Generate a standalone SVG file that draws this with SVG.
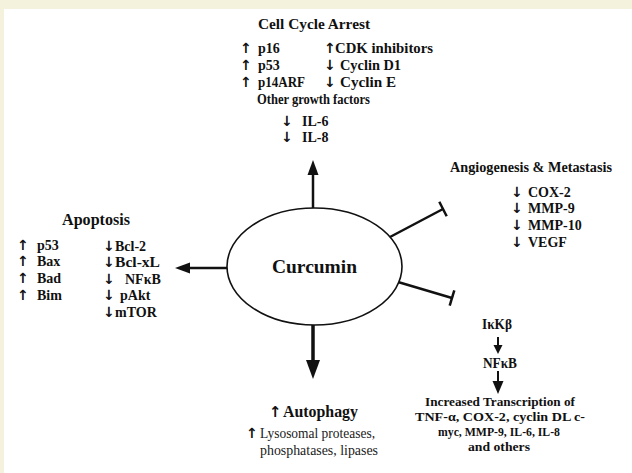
<svg xmlns="http://www.w3.org/2000/svg" width="632" height="473" viewBox="0 0 632 473">
<style>
text{font-family:"Liberation Serif","Times New Roman",serif;fill:#111}
.b{font-weight:bold}
.t{font-size:15px;font-weight:bold}
.r{font-size:14px;font-weight:bold}
.a{font-family:"DejaVu Sans",sans-serif;font-size:14px;font-weight:bold}
.x{font-size:12.5px;font-weight:bold}
.ln{stroke:#111;stroke-width:2.5;fill:none}
.ah{fill:#111}
</style>
<rect x="0" y="0" width="632" height="473" fill="#ffffff"/>
<rect x="0" y="0" width="632" height="9" fill="#f4f1dc"/>
<rect x="0" y="0" width="4" height="473" fill="#f4f1dc"/>

<g id="connectors">
  <line class="ln" x1="313" y1="208" x2="313" y2="172"/>
  <polygon class="ah" points="313,160 307.5,175 318.5,175"/>
  <line class="ln" x1="227" y1="268" x2="187" y2="268"/>
  <polygon class="ah" points="175,268 190,262.5 190,273.5"/>
  <line class="ln" style="stroke-width:3.5" x1="313" y1="325" x2="313" y2="362"/>
  <polygon class="ah" points="313,379 306,360 320,360"/>
  <line class="ln" x1="390" y1="237" x2="443" y2="209"/>
  <line class="ln" x1="439.3" y1="201.8" x2="446.7" y2="216.2"/>
  <line class="ln" x1="398" y1="282" x2="452" y2="298"/>
  <line class="ln" x1="454.3" y1="290.3" x2="449.7" y2="305.7"/>
  <line class="ln" style="stroke-width:2" x1="498" y1="337" x2="498" y2="346"/>
  <polygon class="ah" points="498,354 493.5,345 502.5,345"/>
  <line class="ln" style="stroke-width:2" x1="498" y1="371" x2="498" y2="382"/>
  <polygon class="ah" points="498,394 492.5,381 503.5,381"/>
</g>

<g id="n-curcumin">
  <ellipse cx="314.5" cy="266.5" rx="87.5" ry="58.5" fill="#fff" stroke="#111" stroke-width="1.6"/>
  <text x="272" y="273" class="b" style="font-size:19px" textLength="85" lengthAdjust="spacingAndGlyphs">Curcumin</text>
</g>

<g id="n-cellcycle">
  <text x="258" y="29" class="t" textLength="112" lengthAdjust="spacingAndGlyphs">Cell Cycle Arrest</text>
  <text x="240" y="53" class="a">↑</text><text x="258" y="53" class="r">p16</text>
  <text x="240" y="70" class="a">↑</text><text x="258" y="70" class="r">p53</text>
  <text x="240" y="87" class="a">↑</text><text x="258" y="87" class="r" textLength="47" lengthAdjust="spacingAndGlyphs">p14ARF</text>
  <text x="324" y="53" class="a">↑</text><text x="335" y="53" class="r" textLength="98" lengthAdjust="spacingAndGlyphs">CDK inhibitors</text>
  <text x="324" y="70" class="a">↓</text><text x="340" y="70" class="r" textLength="61" lengthAdjust="spacingAndGlyphs">Cyclin D1</text>
  <text x="324" y="87" class="a">↓</text><text x="340" y="87" class="r" textLength="56" lengthAdjust="spacingAndGlyphs">Cyclin E</text>
  <text x="257" y="104" class="r" textLength="113" lengthAdjust="spacingAndGlyphs">Other growth factors</text>
  <text x="281" y="126" class="a">↓</text><text x="302" y="126" class="r">IL-6</text>
  <text x="281" y="142" class="a">↓</text><text x="302" y="142" class="r">IL-8</text>
</g>

<g id="n-apoptosis">
  <text x="62" y="225" class="b" style="font-size:16px" textLength="68" lengthAdjust="spacingAndGlyphs">Apoptosis</text>
  <text x="17" y="250" class="a">↑</text><text x="37" y="250" class="r">p53</text>
  <text x="17" y="266" class="a">↑</text><text x="37" y="266" class="r">Bax</text>
  <text x="17" y="283" class="a">↑</text><text x="37" y="283" class="r">Bad</text>
  <text x="17" y="300" class="a">↑</text><text x="37" y="300" class="r">Bim</text>
  <text x="103" y="251" class="a">↓</text><text x="115" y="251" class="r">Bcl-2</text>
  <text x="103" y="267" class="a">↓</text><text x="115" y="267" class="r" textLength="45" lengthAdjust="spacingAndGlyphs">Bcl-xL</text>
  <text x="103" y="284" class="a">↓</text><text x="125" y="284" class="r">NFκB</text>
  <text x="103" y="300" class="a">↓</text><text x="120" y="300" class="r">pAkt</text>
  <text x="103" y="317" class="a">↓</text><text x="115" y="317" class="r">mTOR</text>
</g>

<g id="n-angio">
  <text x="450" y="172" class="t" textLength="162" lengthAdjust="spacingAndGlyphs">Angiogenesis &amp; Metastasis</text>
  <text x="511" y="197" class="a">↓</text><text x="528" y="197" class="r">COX-2</text>
  <text x="511" y="213" class="a">↓</text><text x="528" y="213" class="r">MMP-9</text>
  <text x="511" y="230" class="a">↓</text><text x="528" y="230" class="r">MMP-10</text>
  <text x="511" y="247" class="a">↓</text><text x="528" y="247" class="r">VEGF</text>
</g>

<g id="n-nfkb">
  <text x="497" y="329" class="b" style="font-size:14px" text-anchor="middle" textLength="30" lengthAdjust="spacingAndGlyphs">IκKβ</text>
  <text x="500" y="368" class="b" style="font-size:14px" text-anchor="middle" textLength="34" lengthAdjust="spacingAndGlyphs">NFκB</text>
  <text x="500" y="406" class="x" text-anchor="middle" textLength="150" lengthAdjust="spacingAndGlyphs">Increased Transcription of</text>
  <text x="500" y="421" class="x" text-anchor="middle" textLength="170" lengthAdjust="spacingAndGlyphs">TNF-α, COX-2, cyclin DL c-</text>
  <text x="499" y="436" class="x" text-anchor="middle" textLength="122" lengthAdjust="spacingAndGlyphs">myc, MMP-9, IL-6, IL-8</text>
  <text x="499" y="451" class="x" text-anchor="middle" textLength="62" lengthAdjust="spacingAndGlyphs">and others</text>
</g>

<g id="n-autophagy">
  <text x="269" y="417" class="a" style="font-size:15px">↑</text>
  <text x="283" y="417" class="b" style="font-size:17px" textLength="75" lengthAdjust="spacingAndGlyphs">Autophagy</text>
  <text x="246" y="438" class="a">↑</text>
  <text x="260" y="438" style="font-size:15px;fill:#222" textLength="115" lengthAdjust="spacingAndGlyphs">Lysosomal proteases,</text>
  <text x="260" y="455" style="font-size:15px;fill:#222" textLength="118" lengthAdjust="spacingAndGlyphs">phosphatases, lipases</text>
</g>
</svg>
